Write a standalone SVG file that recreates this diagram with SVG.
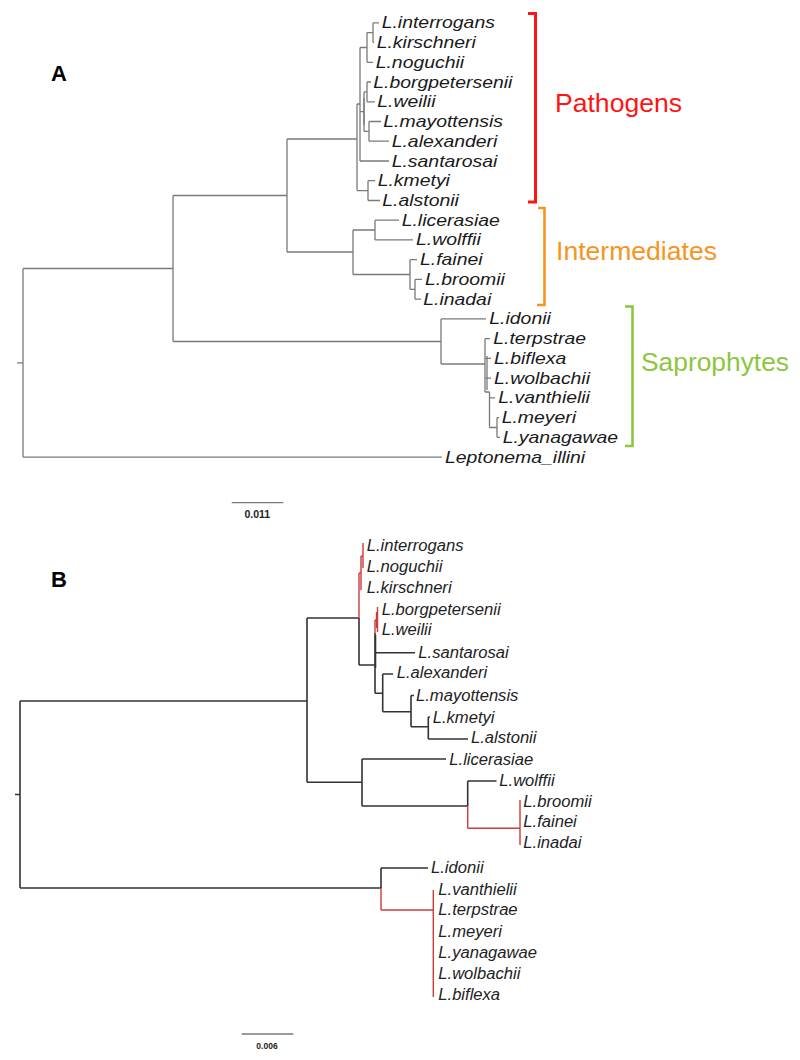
<svg xmlns="http://www.w3.org/2000/svg" width="800" height="1060" viewBox="0 0 800 1060">
<style>
.bg{fill:#ffffff}
.ta{fill:none;stroke:#7a7a7a;stroke-width:1.3}
.tb{fill:none;stroke:#333333;stroke-width:1.6}
.tr{fill:none;stroke:#cc3b3b;stroke-width:1.4}
.la{font-family:"Liberation Sans",Arial,sans-serif;font-style:italic;font-size:17px;fill:#1a1a1a}
.lb{font-family:"Liberation Sans",Arial,sans-serif;font-style:italic;font-size:16px;fill:#222222}
.panel{font-family:"Liberation Sans",Arial,sans-serif;font-weight:bold;font-size:22px;fill:#000}
.scale{font-family:"Liberation Sans",Arial,sans-serif;font-weight:bold;fill:#222}
.clade{font-family:"Liberation Sans",Arial,sans-serif;font-size:25px}
</style>
<rect class="bg" x="0" y="0" width="800" height="1060"/>

<g id="panel-labels">
<text class="panel" x="51" y="80.5" font-size="23">A</text>
<text class="panel" x="51" y="586.5" font-size="21">B</text>
</g>

<g id="connectors">
<!-- Tree A -->
<path class="ta" d="M17,362.8 H23 M23,268.5 V457.1 M23,268.5 H173 M23,457.1 H442
M173,195.5 V341.5 M173,195.5 H287 M173,341.5 H441
M287,139 V252 M287,139 H357 M287,252 H353
M357,104 V190.6 M357,104 H360 M357,190.6 H368
M360,47.5 V161 M360,47.5 H367 M360,161 H389 M360,111.7 H364
M367,32.6 V62.3 M367,32.6 H373 M367,62.3 H373
M373,22.8 V42.5 M373,22.8 H379 M373,42.5 H374
M364,91.9 V131.4 M367,91.9 H364 M367,82 V101.8 M367,82 H371 M367,101.8 H375
M364,131.4 H369 M369,121.5 V141.2 M369,121.5 H381 M369,141.2 H389
M368,180.7 V200.5 M368,180.7 H375 M368,200.5 H380
M353,230 V274.5 M353,230 H375 M353,274.5 H410
M375,220.2 V239.9 M375,220.2 H399 M375,239.9 H413
M410,259.7 V289.3 M410,259.7 H417 M410,289.3 H415
M415,279.4 V299.2 M415,279.4 H422 M415,299.2 H421
M441,318.9 V364 M441,318.9 H486 M441,364 H485
M485,338.6 V392 M485,338.6 H490 M485,358.4 H491 M485,378.1 H491 M487,356 V390
M485,392 H489.5 M489.5,392 V427.5 M489.5,397.9 H495
M489.5,427.5 H497 M497,417.6 V437.3 M497,417.6 H499 M497,437.3 H500"/>
<path class="ta" stroke-width="2" d="M364,98 V125"/>
<!-- Scale A -->
<path class="ta" stroke="#555" stroke-width="1.2" d="M231.7,502.7 H283.3"/>

<!-- Tree B black -->
<path class="tb" d="M15,794.5 H20 M20,701 V888 M20,701 H307 M20,888 H381
M307,618 V782.3 M307,618 H359 M307,782.3 H362
M359,618 V665 M359,665 H375
M375,633 V693.3 M375,652.7 H415
M375,693.3 H382.7 M382.7,674 V711.7 M382.7,674 H393
M382.7,711.7 H411 M411,695.5 V726.7 M411,695.5 H414
M411,726.7 H428.3 M428.3,717 V739 M428.3,717 H430 M428.3,739 H468
M362,759 V806 M362,759 H446 M362,806 H467.7
M467.7,781 V806 M467.7,781 H496.5
M381,868 V888 M381,868 H428"/>
<path class="tb" stroke-width="2.4" d="M375.5,635 V668"/>
<!-- Tree B red -->
<path class="tr" d="M359,573 V618 M359,573 H361 M361,556 V590 M361,556 H363 M363,543 V568
M375,620 V633 M375,620 H377.5 M377.5,607 V632
M467.7,806 V828.3 M467.7,828.3 H520 M520,800 V845
M381,888 V910 M381,910 H433.3 M433.3,890 V997"/>
<path class="tr" stroke-width="2" d="M376.5,612 V628"/>
<!-- Scale B -->
<path class="ta" stroke="#555" stroke-width="1.2" d="M241.7,1034 H293.3"/>
</g>

<g id="scale-a"><text class="scale" x="257.3" y="518.3" font-size="10.5" text-anchor="middle">0.011</text></g>
<g id="scale-b"><text class="scale" x="267" y="1048.5" font-size="8.5" text-anchor="middle">0.006</text></g>

<g id="brackets">
<g id="pathogens">
<path d="M528,13.5 H535.5 V202 H528" fill="none" stroke="#ff1414" stroke-width="3"/>
<text class="clade" x="555" y="111.7" fill="#ff1414" textLength="127" lengthAdjust="spacingAndGlyphs">Pathogens</text>
</g>
<g id="intermediates">
<path d="M538,208 H544.5 V305 H537" fill="none" stroke="#f7941d" stroke-width="2.6"/>
<text class="clade" x="556" y="260" fill="#f7941d" textLength="161" lengthAdjust="spacingAndGlyphs">Intermediates</text>
</g>
<g id="saprophytes">
<path d="M625,306.5 H632.5 V446 H625" fill="none" stroke="#8cc63f" stroke-width="2.6"/>
<text class="clade" x="641" y="371" fill="#8cc63f" textLength="148" lengthAdjust="spacingAndGlyphs">Saprophytes</text>
</g>
</g>

<g id="tree-a-leaves">
<g id="a-interrogans"><text class="la" x="381.7" y="28.3" textLength="113.2" lengthAdjust="spacingAndGlyphs">L.interrogans</text></g>
<g id="a-kirschneri"><text class="la" x="376.7" y="48" textLength="99.2" lengthAdjust="spacingAndGlyphs">L.kirschneri</text></g>
<g id="a-noguchii"><text class="la" x="375.7" y="67.8" textLength="88.4" lengthAdjust="spacingAndGlyphs">L.noguchii</text></g>
<g id="a-borgpetersenii"><text class="la" x="373.3" y="87.5" textLength="139.1" lengthAdjust="spacingAndGlyphs">L.borgpetersenii</text></g>
<g id="a-weilii"><text class="la" x="377.3" y="107.3" textLength="58.2" lengthAdjust="spacingAndGlyphs">L.weilii</text></g>
<g id="a-mayottensis"><text class="la" x="383.3" y="127" textLength="119.7" lengthAdjust="spacingAndGlyphs">L.mayottensis</text></g>
<g id="a-alexanderi"><text class="la" x="391.7" y="146.7" textLength="105.7" lengthAdjust="spacingAndGlyphs">L.alexanderi</text></g>
<g id="a-santarosai"><text class="la" x="391.7" y="166.5" textLength="105.7" lengthAdjust="spacingAndGlyphs">L.santarosai</text></g>
<g id="a-kmetyi"><text class="la" x="377.7" y="186.2" textLength="72.2" lengthAdjust="spacingAndGlyphs">L.kmetyi</text></g>
<g id="a-alstonii"><text class="la" x="382.3" y="206" textLength="76.6" lengthAdjust="spacingAndGlyphs">L.alstonii</text></g>
<g id="a-licerasiae"><text class="la" x="401.7" y="225.7" textLength="98.1" lengthAdjust="spacingAndGlyphs">L.licerasiae</text></g>
<g id="a-wolffii"><text class="la" x="416" y="245.4" textLength="64.7" lengthAdjust="spacingAndGlyphs">L.wolffii</text></g>
<g id="a-fainei"><text class="la" x="420" y="265.2" textLength="62.5" lengthAdjust="spacingAndGlyphs">L.fainei</text></g>
<g id="a-broomii"><text class="la" x="425" y="284.9" textLength="79.8" lengthAdjust="spacingAndGlyphs">L.broomii</text></g>
<g id="a-inadai"><text class="la" x="423.3" y="304.7" textLength="67.9" lengthAdjust="spacingAndGlyphs">L.inadai</text></g>
<g id="a-idonii"><text class="la" x="489.3" y="324.4" textLength="61.5" lengthAdjust="spacingAndGlyphs">L.idonii</text></g>
<g id="a-terpstrae"><text class="la" x="493.3" y="344.1" textLength="92.7" lengthAdjust="spacingAndGlyphs">L.terpstrae</text></g>
<g id="a-biflexa"><text class="la" x="494" y="363.9" textLength="72.2" lengthAdjust="spacingAndGlyphs">L.biflexa</text></g>
<g id="a-wolbachii"><text class="la" x="494" y="383.6" textLength="96" lengthAdjust="spacingAndGlyphs">L.wolbachii</text></g>
<g id="a-vanthielii"><text class="la" x="498.3" y="403.4" textLength="91.6" lengthAdjust="spacingAndGlyphs">L.vanthielii</text></g>
<g id="a-meyeri"><text class="la" x="501.7" y="423.1" textLength="74.4" lengthAdjust="spacingAndGlyphs">L.meyeri</text></g>
<g id="a-yanagawae"><text class="la" x="502.7" y="442.8" textLength="115.4" lengthAdjust="spacingAndGlyphs">L.yanagawae</text></g>
<g id="a-leptonema"><text class="la" x="445" y="462.6" textLength="140.2" lengthAdjust="spacingAndGlyphs">Leptonema_illini</text></g>
</g>

<g id="tree-b-leaves">
<g id="b-interrogans"><text class="lb" x="366.7" y="550.7" textLength="96.9" lengthAdjust="spacingAndGlyphs">L.interrogans</text></g>
<g id="b-noguchii"><text class="lb" x="366.7" y="571.7" textLength="75.7" lengthAdjust="spacingAndGlyphs">L.noguchii</text></g>
<g id="b-kirschneri"><text class="lb" x="366.7" y="593.3" textLength="84.9" lengthAdjust="spacingAndGlyphs">L.kirschneri</text></g>
<g id="b-borgpetersenii"><text class="lb" x="381.7" y="615" textLength="119" lengthAdjust="spacingAndGlyphs">L.borgpetersenii</text></g>
<g id="b-weilii"><text class="lb" x="381.7" y="635" textLength="49.8" lengthAdjust="spacingAndGlyphs">L.weilii</text></g>
<g id="b-santarosai"><text class="lb" x="418.3" y="657.5" textLength="90.4" lengthAdjust="spacingAndGlyphs">L.santarosai</text></g>
<g id="b-alexanderi"><text class="lb" x="396.7" y="678" textLength="90.4" lengthAdjust="spacingAndGlyphs">L.alexanderi</text></g>
<g id="b-mayottensis"><text class="lb" x="416" y="701" textLength="102.4" lengthAdjust="spacingAndGlyphs">L.mayottensis</text></g>
<g id="b-kmetyi"><text class="lb" x="432.7" y="722.5" textLength="61.8" lengthAdjust="spacingAndGlyphs">L.kmetyi</text></g>
<g id="b-alstonii"><text class="lb" x="471" y="743" textLength="65.5" lengthAdjust="spacingAndGlyphs">L.alstonii</text></g>
<g id="b-licerasiae"><text class="lb" x="449.3" y="764.5" textLength="83.9" lengthAdjust="spacingAndGlyphs">L.licerasiae</text></g>
<g id="b-wolffii"><text class="lb" x="499.3" y="786" textLength="55.3" lengthAdjust="spacingAndGlyphs">L.wolffii</text></g>
<g id="b-broomii"><text class="lb" x="523.3" y="806.5" textLength="68.3" lengthAdjust="spacingAndGlyphs">L.broomii</text></g>
<g id="b-fainei"><text class="lb" x="523.3" y="826.7" textLength="53.5" lengthAdjust="spacingAndGlyphs">L.fainei</text></g>
<g id="b-inadai"><text class="lb" x="523.3" y="848" textLength="58.1" lengthAdjust="spacingAndGlyphs">L.inadai</text></g>
<g id="b-idonii"><text class="lb" x="431" y="873.3" textLength="52.6" lengthAdjust="spacingAndGlyphs">L.idonii</text></g>
<g id="b-vanthielii"><text class="lb" x="438.3" y="895" textLength="78.4" lengthAdjust="spacingAndGlyphs">L.vanthielii</text></g>
<g id="b-terpstrae"><text class="lb" x="438.3" y="915" textLength="79.3" lengthAdjust="spacingAndGlyphs">L.terpstrae</text></g>
<g id="b-meyeri"><text class="lb" x="438.3" y="936.7" textLength="63.6" lengthAdjust="spacingAndGlyphs">L.meyeri</text></g>
<g id="b-yanagawae"><text class="lb" x="438.3" y="958.3" textLength="98.7" lengthAdjust="spacingAndGlyphs">L.yanagawae</text></g>
<g id="b-wolbachii"><text class="lb" x="438.3" y="979.3" textLength="82.1" lengthAdjust="spacingAndGlyphs">L.wolbachii</text></g>
<g id="b-biflexa"><text class="lb" x="438.3" y="1000" textLength="61.8" lengthAdjust="spacingAndGlyphs">L.biflexa</text></g>
</g>
</svg>
